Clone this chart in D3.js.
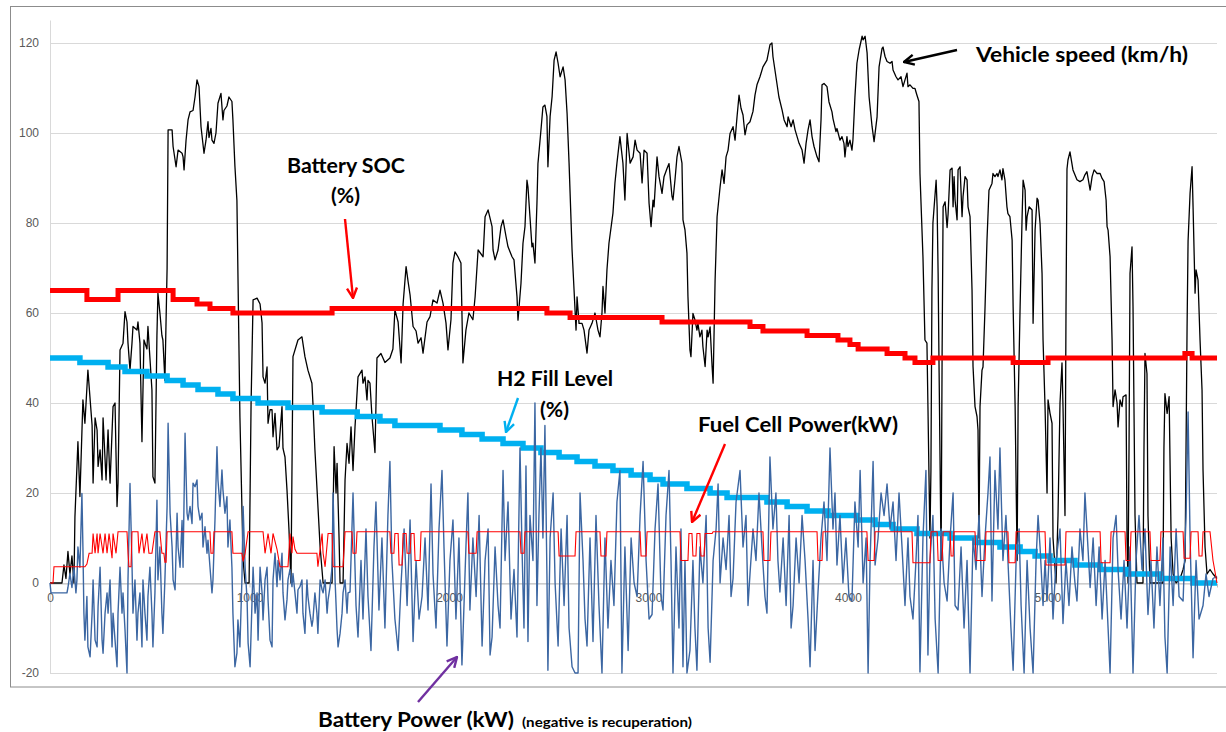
<!DOCTYPE html>
<html><head><meta charset="utf-8">
<script src="https://cdn.jsdelivr.net/npm/d3@7"></script>
<style>
html,body{margin:0;padding:0;background:#fff;}
svg{display:block;}
</style></head>
<body>
<svg id="chart" width="1226" height="732"></svg>
<script>
// Axis ticks
const xTicks = [0, 1000, 2000, 3000, 4000, 5000];
const yTicks = [-20, 0, 20, 40, 60, 80, 100, 120];

// Vehicle speed (km/h), [time s, value]
const speed = [[0,0],[60,0],[70,4],[80,1],[90,7],[100,2],[110,6],[120,0],[125,14.7],[140,31.4],[150,19.2],[165,40.7],[175,35.5],[190,47.3],[211,35],[216,22.2],[226,36.7],[236,34],[241,25.9],[251,29.6],[261,22.9],[266,36.7],[281,22.9],[291,34],[301,22.2],[316,39.2],[326,40],[336,17],[341,22.2],[351,51.8],[366,53.3],[376,60.3],[386,58],[391,53.3],[401,47.3],[411,53.3],[416,57],[436,56.2],[441,58],[451,53.3],[461,31.4],[471,54],[486,52],[491,57],[511,42.9],[516,23.6],[526,22.2],[536,55],[541,64.4],[551,60],[561,55],[566,54],[576,45],[587,70],[592,100.7],[612,100.7],[617,97],[632,92.5],[642,96.2],[662,95.5],[667,94.7],[672,91.8],[682,98.4],[692,102.9],[702,104.7],[717,105],[727,108],[737,111.8],[747,110.3],[757,101.4],[772,95.5],[782,98.4],[792,102.5],[797,99],[807,101],[812,98.4],[822,97.7],[832,100],[842,106.6],[857,108.8],[867,102.9],[872,105],[887,106],[897,108],[912,107],[917,102.9],[927,92.6],[937,85],[952,37],[968,5],[978,0],[998,0],[1008,40],[1018,62.9],[1038,63.3],[1053,62],[1063,57.8],[1068,45.8],[1078,44.4],[1088,48],[1093,35.5],[1103,38.5],[1113,38.5],[1118,32.5],[1128,37.7],[1138,29.6],[1148,30.3],[1163,39.2],[1168,29.9],[1178,28],[1188,20.7],[1198,11.8],[1208,0],[1218,50.3],[1243,54],[1263,54.7],[1278,50.3],[1293,47.3],[1313,44.4],[1318,40],[1328,29.6],[1354,8],[1369,0],[1414,0],[1424,30.3],[1434,20],[1439,26.6],[1449,10],[1454,0],[1469,0],[1479,22.9],[1489,31],[1499,26.6],[1509,34.7],[1519,25],[1529,34.7],[1544,45.8],[1564,47.3],[1569,44.4],[1579,45.8],[1589,40.7],[1594,45],[1604,44.4],[1614,37],[1629,29],[1639,50],[1659,51],[1679,49],[1704,50],[1719,52],[1729,60.7],[1745,58],[1760,48.9],[1770,62],[1785,70.3],[1795,67],[1805,64],[1820,57],[1835,56],[1845,53.3],[1860,54.5],[1870,51.1],[1890,58],[1905,59.2],[1920,62.9],[1940,62.2],[1955,65.1],[1970,62.2],[1985,57.8],[1995,51.8],[2010,58.5],[2020,71.1],[2030,73.6],[2045,72.5],[2060,71.1],[2070,48.9],[2085,56.2],[2100,60],[2120,58.5],[2131,63.6],[2146,74],[2171,72.5],[2181,81.4],[2196,82.9],[2216,79.2],[2221,74],[2231,71.8],[2246,74],[2261,79.2],[2271,80.7],[2286,77],[2296,74.7],[2316,72.5],[2326,71.8],[2341,63.6],[2346,58.4],[2361,66.6],[2371,75.5],[2381,79.2],[2391,89.5],[2396,88],[2406,81.4],[2416,74.7],[2421,75.5],[2431,71.1],[2441,84.4],[2446,93.2],[2461,100.6],[2471,105.8],[2481,106.2],[2491,103.7],[2496,92.5],[2507,103.7],[2517,108.1],[2527,116.2],[2537,118],[2547,115.5],[2557,112.5],[2572,114.7],[2582,111.8],[2592,104.4],[2602,93.3],[2617,74],[2627,65.1],[2637,56.2],[2642,63.6],[2652,57.7],[2667,57.7],[2677,56.2],[2692,51.1],[2702,56.2],[2717,57.7],[2732,60],[2747,56.2],[2757,54.7],[2767,60],[2772,65.9],[2782,60],[2792,69.6],[2802,75.5],[2822,82.2],[2832,88.9],[2842,93.3],[2857,99.2],[2872,93.3],[2882,85.1],[2893,99.9],[2908,93.3],[2923,94.7],[2933,98.4],[2943,96.2],[2958,95.5],[2968,88.9],[2978,96.2],[2993,95.5],[3003,84.4],[3013,79.2],[3023,85.1],[3028,83.6],[3043,94.7],[3053,90.3],[3068,86.6],[3078,90.3],[3093,92.1],[3103,93.2],[3118,85.9],[3123,85.1],[3133,89.6],[3143,94.7],[3153,97],[3168,93.3],[3173,80.7],[3183,78.5],[3193,73.3],[3198,63.6],[3208,51.8],[3213,50.3],[3223,59.9],[3233,58.5],[3243,56.2],[3248,57.7],[3258,54.7],[3268,56.2],[3273,52.5],[3284,48.1],[3294,56.2],[3299,54.7],[3309,56.9],[3319,48.1],[3324,44.4],[3334,67.3],[3344,81.4],[3359,88],[3369,91.8],[3379,88.8],[3389,94.7],[3399,96.2],[3409,99.9],[3424,101.4],[3434,98.4],[3444,103.6],[3454,108.4],[3464,105.5],[3474,104],[3484,99.6],[3494,101.8],[3509,102.5],[3524,104.8],[3534,108.4],[3544,110.7],[3559,112.5],[3574,114.7],[3594,116.2],[3609,119.6],[3619,120],[3624,117],[3644,111],[3654,108],[3670,105.1],[3680,102.9],[3695,101.4],[3700,103.6],[3715,101.4],[3725,102.9],[3735,100.7],[3745,99.2],[3755,97.7],[3770,96.2],[3780,93.3],[3790,97.7],[3800,100.7],[3810,102.9],[3820,99.2],[3830,97],[3845,94.7],[3855,93.6],[3865,102.9],[3870,110.7],[3880,111],[3895,110.3],[3905,106.9],[3920,104.7],[3925,103.2],[3940,100.3],[3945,101],[3960,98.4],[3970,99.2],[3980,97.7],[3985,94.7],[3995,99.2],[4000,97],[4010,98.4],[4020,96.2],[4025,98.4],[4035,108],[4045,115.5],[4056,118.5],[4071,121.5],[4076,120.7],[4086,121.5],[4096,117.8],[4106,108],[4121,101.4],[4131,98.1],[4146,103.6],[4156,114.7],[4171,118.8],[4176,119.1],[4186,117],[4196,115.9],[4211,115.5],[4221,115.9],[4226,114],[4241,112.5],[4251,111.8],[4266,112.5],[4276,110.3],[4286,111.8],[4296,113.3],[4301,110.3],[4311,110.7],[4326,109.9],[4336,109.9],[4346,108.4],[4356,107],[4361,91],[4376,72.5],[4386,54],[4396,53.3],[4401,39.2],[4411,10],[4416,25],[4421,65.1],[4426,80],[4442,89.5],[4447,83.6],[4452,68.8],[4457,46.7],[4467,5],[4472,51],[4477,83.6],[4487,84.7],[4497,79],[4502,82],[4512,91.8],[4522,92.2],[4527,83.6],[4532,90.3],[4537,85.1],[4547,80.7],[4552,91.8],[4562,92.5],[4572,81.4],[4577,85.9],[4587,90.3],[4597,89.6],[4602,83.6],[4612,81.4],[4622,65.1],[4627,48.1],[4637,39.2],[4647,37],[4652,34],[4657,10],[4662,39.2],[4672,47.3],[4677,48],[4687,61],[4697,76.2],[4707,87.3],[4722,88.8],[4727,91],[4737,90.3],[4747,91],[4752,90.3],[4762,91.8],[4772,89.6],[4777,92.1],[4787,89.6],[4797,83.6],[4802,82.1],[4812,81.4],[4823,76.2],[4828,61.4],[4838,39.2],[4848,5],[4853,39.2],[4863,61.4],[4873,81.4],[4878,89.5],[4888,87.3],[4893,78.4],[4898,81.4],[4908,83.6],[4923,82.9],[4928,57.7],[4938,78.4],[4948,85.5],[4953,85.1],[4963,79.9],[4973,68.8],[4978,54],[4988,39.2],[4998,20],[5003,40.7],[5013,37.7],[5023,35.5],[5028,10],[5043,0],[5053,15],[5063,40],[5073,48.9],[5078,39.2],[5088,15],[5093,60],[5098,92],[5103,94],[5113,95.8],[5128,91.8],[5148,89.6],[5163,89.2],[5178,89.6],[5188,90.7],[5198,91.4],[5214,87.3],[5224,90.3],[5234,91.8],[5249,91],[5264,91],[5274,89.9],[5284,89.2],[5294,85.1],[5299,79.2],[5304,78.4],[5314,72.5],[5324,54],[5329,39.2],[5339,42.9],[5349,40],[5354,34.7],[5364,40.7],[5374,39.2],[5379,41.4],[5394,41.8],[5399,10],[5404,0],[5409,30],[5414,68.8],[5424,74.7],[5429,61.4],[5439,15],[5449,0],[5479,0],[5484,30],[5489,51],[5499,46.5],[5504,15],[5514,0],[5579,0],[5584,30],[5589,42.1],[5600,37.7],[5610,41.4],[5620,10],[5630,2],[5645,0],[5665,1],[5680,3],[5690,5],[5700,57],[5705,76],[5715,86.6],[5725,92.5],[5730,83.6],[5740,64.4],[5745,69.6],[5755,67.3],[5765,54],[5775,42.9],[5780,25],[5790,8],[5800,2],[5815,3],[5830,2],[5850,1]];

// Battery state of charge (%), value from each time onward
const soc = [[0,65],[185,63],[341,65],[617,63],[737,62],[802,61],[917,60],[1414,61],[2491,60],[2607,59],[3068,58],[3509,57],[3574,56],[3795,55],[3950,54],[4010,53],[4051,52],[4196,51],[4286,50],[4336,49],[4426,50],[4828,49],[5003,50],[5689,51],[5725,50],[5850,50]];

// Hydrogen tank fill level (%), value from each time onward
const h2 = [[0,50],[150,49],[291,48],[376,47],[486,46],[587,45],[667,44],[742,43],[842,42],[917,41],[1043,40],[1193,39],[1364,38],[1540,37],[1654,36],[1729,35],[1955,34],[2065,33],[2166,32],[2271,31],[2371,30],[2461,29],[2552,28],[2642,27],[2732,26],[2822,25],[2913,24],[3008,23],[3073,22],[3193,21],[3309,20],[3394,19],[3594,18],[3695,17],[3795,16],[3900,15],[4045,14],[4136,13],[4226,12],[4346,11],[4512,10],[4637,9],[4762,8],[4863,7],[4938,6],[5013,5],[5138,4],[5264,3],[5399,2],[5564,1],[5730,0],[5850,0]];

// Fuel cell power (kW), [time s, value]
const fuelCell = [[0,0],[15,0],[20,3.6],[175,3.6],[185,4.2],[196,6.6],[211,6.6],[216,11],[226,6.6],[236,11],[241,6.6],[251,11],[266,6.6],[276,11],[286,6.6],[296,11],[311,5.5],[316,11],[331,6.6],[341,11.4],[386,11.4],[391,6.6],[396,3.6],[406,3.6],[411,11.4],[441,11.4],[446,6.6],[461,11],[471,6.6],[486,11],[496,6.6],[511,6.6],[526,11.4],[551,11.4],[561,6.6],[571,6.6],[576,4.6],[582,4.6],[587,11.4],[802,11.4],[807,6.6],[817,6.6],[822,11.4],[912,11.4],[917,6.6],[962,6.6],[968,4.8],[978,6.6],[993,11.4],[1068,11.4],[1078,6.6],[1093,11],[1108,6.6],[1118,11],[1138,7.5],[1153,3.6],[1193,3.6],[1203,11],[1213,6.6],[1218,10.3],[1228,7.5],[1238,6.6],[1338,6.6],[1343,3.6],[1364,11],[1369,6.6],[1379,3.6],[1394,11],[1414,11],[1419,3.6],[1469,3.6],[1479,11.4],[1514,11.4],[1519,6.6],[1534,6.6],[1539,11.4],[1704,11.4],[1709,6.6],[1724,6.6],[1729,11],[1745,11],[1750,4],[1765,4],[1770,11],[1785,11],[1790,6.6],[1805,6.6],[1810,11],[1825,11],[1830,5],[1855,5],[1860,11.4],[2095,11.4],[2100,6.6],[2136,6.6],[2141,11.4],[2356,11.4],[2361,6.6],[2376,6.6],[2381,11.4],[2547,11.4],[2552,6],[2632,6],[2637,11.4],[2757,11.4],[2762,6],[2787,6],[2792,11.4],[2958,11.4],[2963,6],[2988,6],[2993,11.4],[3158,11.4],[3163,5],[3198,5],[3203,11],[3218,11],[3223,6],[3238,6],[3243,11],[3258,11],[3263,6],[3279,6],[3284,11],[3319,11],[3324,11.4],[3574,11.4],[3579,5],[3609,5],[3614,11.4],[3845,11.4],[3850,5],[3870,5],[3875,11.4],[4095,11.4],[4101,5],[4131,5],[4136,11.4],[4321,11.4],[4326,4.5],[4411,4.5],[4416,11.4],[4447,11.4],[4452,5],[4472,5],[4477,11.4],[4512,11.4],[4517,6],[4527,6],[4532,11.4],[4637,11.4],[4642,5],[4687,5],[4692,11.4],[4802,11.4],[4807,4.5],[4838,4.5],[4843,11.4],[4988,11.4],[4993,4],[5088,4],[5093,11.4],[5264,11.4],[5269,4.5],[5314,4.5],[5319,11.4],[5389,11.4],[5394,5],[5414,5],[5419,11.4],[5514,11.4],[5519,5],[5564,5],[5569,11.4],[5680,11.4],[5685,5.5],[5715,5.5],[5720,11.4],[5755,11.4],[5760,6],[5775,6],[5780,11.4],[5815,11.4],[5830,5],[5850,0]];

// Battery power (kW), negative while recuperating
const batteryPower = [[0,0],[5,-2.2],[85,-2.2],[90,-1],[100,2.1],[110,-1],[120,3.5],[130,-2.2],[135,0.7],[140,8],[150,3.5],[160,19.9],[165,8],[170,-6.7],[175,-12.7],[185,-3],[190,-14.2],[201,-16.4],[211,-6.7],[216,0.7],[226,-12.7],[236,-14.2],[241,-5.2],[251,3.5],[261,-12.7],[266,-15.6],[276,-6.7],[286,-2.2],[291,-6.7],[301,0.7],[311,-14.2],[316,-6.7],[326,-12.7],[336,-18.6],[341,-6.7],[351,3.5],[361,-6.7],[366,-2.2],[376,-10.4],[386,-20],[391,0.7],[401,22.1],[411,4.2],[416,-6.7],[426,0.7],[436,-12.7],[441,-6.7],[451,-2.2],[461,-14.2],[466,0.7],[476,-6.7],[486,-12.7],[491,-3],[501,3.5],[511,-6.7],[516,-14.2],[526,-2.2],[536,18.4],[541,0.7],[551,8],[561,-6.7],[566,-11.2],[576,0.7],[587,17],[592,35.5],[602,15.5],[612,8],[617,0.7],[627,-1.5],[637,15.5],[642,8],[652,3.5],[662,13.9],[667,3.5],[677,33.3],[687,15.5],[692,14],[702,17],[712,13.2],[717,22.2],[727,21.4],[737,22.9],[742,17],[752,14],[762,15.5],[767,8],[777,12.5],[787,6.6],[792,9.5],[802,3.5],[812,-2.2],[817,0.7],[827,14],[837,30.3],[842,22.9],[852,17],[862,25.1],[867,20.7],[877,15.5],[887,19.2],[892,8],[902,14],[912,3.5],[917,-6.7],[927,-18.6],[937,-15.6],[942,-8.2],[952,-14.2],[962,0.7],[968,17],[978,3.5],[988,-3.7],[993,-13.3],[1003,-18.6],[1013,-3.7],[1018,3.5],[1028,-6.7],[1038,-2.2],[1043,-12.7],[1053,3.5],[1063,-2.2],[1068,-8.2],[1078,0.7],[1088,3.5],[1093,-3.7],[1103,-12.7],[1113,-14.2],[1118,0.7],[1128,6.6],[1138,-0.8],[1143,5],[1153,0.7],[1163,6.6],[1168,-2.2],[1178,-8.2],[1188,-3.7],[1193,0.7],[1203,3],[1213,-0.8],[1218,2.1],[1228,-2.2],[1238,-6.7],[1243,-1.5],[1253,-0.8],[1263,0.7],[1268,-6.7],[1278,-11.2],[1288,0.7],[1293,-3],[1303,-6.7],[1313,-9.6],[1318,-8.2],[1328,-2.2],[1338,-6.7],[1343,-11.2],[1354,0.7],[1364,-1.5],[1369,-2.2],[1379,0.7],[1389,-6.7],[1394,-3.7],[1404,-0.8],[1414,3.5],[1419,20],[1429,0.7],[1439,-10.4],[1444,-14.2],[1454,-11.2],[1464,-6.7],[1469,-2.2],[1479,0.7],[1489,-6.7],[1494,-2.2],[1504,-2],[1519,20],[1534,-5],[1544,-12],[1559,5],[1569,-8],[1584,12],[1594,-3],[1609,-15],[1624,8],[1634,18],[1649,-6],[1664,10],[1679,-10],[1694,15],[1704,27],[1714,5],[1729,-8],[1745,-15],[1760,0],[1775,12],[1790,-5],[1805,14],[1820,-13],[1835,5],[1850,-8],[1865,-3],[1880,10],[1895,-6],[1910,22],[1920,2],[1935,-10],[1950,12],[1965,25],[1975,8],[1990,-14],[2005,5],[2020,14],[2035,-8],[2050,10],[2065,-18.2],[2070,-12],[2085,8],[2095,20],[2105,-6],[2120,10],[2136,-3],[2151,15],[2166,-14],[2181,5],[2196,12],[2206,-16],[2216,-12],[2231,8],[2246,-5],[2256,-10],[2271,25],[2281,5],[2296,18],[2311,-8],[2326,3],[2341,-12],[2356,30],[2366,8],[2376,-10],[2386,26],[2396,-13],[2406,15],[2421,5],[2431,40],[2441,-5],[2451,15],[2461,30],[2471,10],[2481,35],[2491,2],[2496,-19.4],[2507,10],[2522,20],[2532,0],[2547,-14],[2562,12],[2577,-5],[2592,15],[2602,-10],[2617,-18.6],[2632,-20],[2647,-20],[2657,20],[2672,5],[2682,-8],[2692,-14],[2707,10],[2722,-13],[2737,15],[2752,-5],[2767,-20],[2782,10],[2797,-10],[2812,5],[2827,-5],[2842,18],[2857,25],[2867,-20],[2882,8],[2898,-15],[2913,10],[2928,0],[2943,-3],[2958,15],[2973,27],[2988,5],[3003,-8],[3018,-7],[3033,12],[3048,22],[3063,-3],[3073,-6],[3088,15],[3103,25],[3113,5],[3123,-20],[3138,8],[3153,-10],[3163,12],[3173,-18.6],[3183,5],[3193,-20],[3208,-15],[3223,5],[3233,-10],[3243,-19.4],[3258,8],[3273,0],[3289,15],[3299,-10],[3309,-17.6],[3324,5],[3339,12],[3349,22],[3359,0],[3374,10],[3389,3],[3404,15],[3414,-3],[3424,1],[3439,18],[3459,25],[3474,8],[3489,15],[3499,-5],[3509,2],[3524,12],[3539,5],[3554,20],[3569,8],[3584,-3],[3594,-6.7],[3609,28],[3624,12],[3639,20],[3649,5],[3659,-2],[3675,10],[3690,-5],[3705,15],[3715,-10],[3725,-5],[3740,10],[3755,0],[3770,15],[3785,5],[3800,-8],[3810,-18.6],[3825,5],[3835,-15],[3850,-2],[3865,10],[3880,18],[3895,5],[3910,30],[3925,12],[3935,20],[3945,4],[3960,15],[3975,0],[3990,10],[4005,-3],[4020,-4],[4035,18],[4051,8],[4061,25],[4076,0],[4091,10],[4101,-20],[4111,5],[4126,27],[4136,4],[4151,10],[4166,20],[4181,15],[4196,22],[4211,12],[4226,18],[4241,5],[4256,20],[4271,8],[4286,-5],[4301,10],[4311,-3],[4326,-8],[4341,5],[4351,15],[4361,-19.8],[4376,10],[4391,25],[4401,-16],[4411,5],[4426,15],[4437,-8],[4452,-20],[4467,12],[4482,0],[4497,-4],[4512,10],[4527,20],[4537,-5],[4552,-6],[4567,8],[4582,-10],[4597,5],[4612,-20],[4627,10],[4642,3],[4657,15],[4672,-3],[4687,10],[4702,20],[4712,28],[4722,-4],[4737,25],[4752,12],[4762,30],[4777,5],[4792,15],[4807,0],[4817,-10],[4828,-19.4],[4843,5],[4858,12],[4868,-5],[4883,-20],[4898,5],[4913,-10],[4928,-20],[4943,5],[4953,15],[4963,8],[4978,-5],[4988,5],[4998,-4],[5013,10],[5028,-8],[5043,5],[5063,12],[5078,-9],[5093,5],[5108,-5],[5123,8],[5138,0],[5148,-4],[5163,12],[5178,5],[5188,20],[5203,8],[5214,-1],[5229,10],[5244,-5],[5259,8],[5274,-8],[5289,5],[5304,-10],[5314,-20],[5329,10],[5344,15],[5354,3],[5369,-8],[5384,5],[5399,-10],[5414,8],[5429,-20],[5444,5],[5459,15],[5474,3],[5489,12],[5504,-7],[5519,5],[5534,-10],[5549,8],[5564,-5],[5579,10],[5589,-12],[5600,-20],[5615,8],[5630,-5],[5645,12],[5660,-3],[5680,-4],[5695,15],[5705,38],[5715,10],[5730,-16.6],[5745,5],[5760,-8],[5780,-5],[5795,2],[5810,-3],[5830,1],[5850,1.5]];

const svg = d3.select("#chart");
const x = d3.scaleLinear().domain([0, 5850]).range([50, 1217]);
const y = d3.scaleLinear().domain([-20, 125]).range([673, 20.5]);

// outer chart frame
svg.append("rect").attr("x", 10.5).attr("y", 6.5).attr("width", 1230).attr("height", 680.5)
  .attr("fill", "#fff").attr("stroke", "#8c8c8c").attr("stroke-width", 1);

// horizontal gridlines
svg.append("g").selectAll("line").data(yTicks).join("line")
  .attr("x1", 50).attr("x2", 1217)
  .attr("y1", d => Math.round(y(d)) + 0.5).attr("y2", d => Math.round(y(d)) + 0.5)
  .attr("stroke", "#d9d9d9").attr("stroke-width", 1);

// vertical value axis
svg.append("line").attr("x1", 50.5).attr("x2", 50.5).attr("y1", y(125)).attr("y2", y(-20))
  .attr("stroke", "#d9d9d9");

// y tick labels
svg.append("g").selectAll("text").data(yTicks).join("text")
  .attr("x", 39).attr("y", d => y(d) + 4)
  .attr("text-anchor", "end")
  .attr("font-family", "Liberation Sans, Arial, sans-serif").attr("font-size", 12)
  .attr("fill", "#595959").text(d => d);

// time axis at zero
const xAxis = d3.axisBottom(x).tickValues(xTicks).tickSize(4).tickPadding(6).tickFormat(d3.format("d"));
const gx = svg.append("g").attr("transform", `translate(0,${Math.round(y(0)) + 0.5})`).call(xAxis);
gx.select(".domain").attr("stroke", "#bfbfbf");
gx.selectAll(".tick line").attr("stroke", "#bfbfbf");
gx.selectAll(".tick text").attr("font-family", "Liberation Sans, Arial, sans-serif")
  .attr("font-size", 12).attr("fill", "#595959");

const line = d3.line().x(d => x(d[0])).y(d => y(d[1]));
const step = d3.line().x(d => x(d[0])).y(d => y(d[1])).curve(d3.curveStepAfter);

const plot = svg.append("g");
plot.append("path").datum(speed).attr("d", line)
  .attr("fill", "none").attr("stroke", "#000").attr("stroke-width", 1.3).attr("stroke-linejoin", "round");
plot.append("path").datum(h2).attr("d", step)
  .attr("fill", "none").attr("stroke", "#00b0f0").attr("stroke-width", 5.5);
plot.append("path").datum(batteryPower).attr("d", line)
  .attr("fill", "none").attr("stroke", "#3b66a2").attr("stroke-width", 1.4).attr("stroke-linejoin", "round");
plot.append("path").datum(fuelCell).attr("d", line)
  .attr("fill", "none").attr("stroke", "#ff0000").attr("stroke-width", 1.1);
plot.append("path").datum(soc).attr("d", step)
  .attr("fill", "none").attr("stroke", "#ff0000").attr("stroke-width", 5);

// arrowheads
const defs = svg.append("defs");
function head(id, color) {
  defs.append("marker").attr("id", id).attr("viewBox", "0 0 12 12").attr("refX", 11).attr("refY", 6)
    .attr("markerWidth", 12).attr("markerHeight", 12).attr("markerUnits", "userSpaceOnUse").attr("orient", "auto")
    .append("path").attr("d", "M1,1 L11,6 L1,11").attr("fill", "none").attr("stroke", color).attr("stroke-width", 2.4);
}
head("hBlack", "#000"); head("hRed", "#ff0000"); head("hCyan", "#00b0f0"); head("hPurple", "#7030a0");

const arrows = [
  [957, 50, 904, 62, "#000", "hBlack"],
  [345, 219, 353, 298, "#ff0000", "hRed"],
  [518, 398, 506, 432, "#00b0f0", "hCyan"],
  [725, 444, 692, 522, "#ff0000", "hRed"],
  [418, 702, 457, 657, "#7030a0", "hPurple"]
];
svg.append("g").selectAll("line").data(arrows).join("line")
  .attr("x1", d => d[0]).attr("y1", d => d[1]).attr("x2", d => d[2]).attr("y2", d => d[3])
  .attr("stroke", d => d[4]).attr("stroke-width", 2.4)
  .attr("marker-end", d => `url(#${d[5]})`);

// annotations
const labels = [
  ["Vehicle speed (km/h)", 976, 62, 20, 212],
  ["Battery SOC", 287, 173, 20, 118],
  ["(%)", 331, 203, 20, 29],
  ["H2 Fill Level", 497, 386, 20, 116],
  ["(%)", 540, 417, 20, 29],
  ["Fuel Cell Power(kW)", 698, 432, 20, 200],
  ["Battery Power (kW)", 318, 727, 20, 196]
];
svg.append("g").selectAll("text").data(labels).join("text")
  .attr("x", d => d[1]).attr("y", d => d[2])
  .attr("font-family", "Lato, 'Open Sans', sans-serif").attr("font-weight", "bold")
  .attr("font-size", d => d[3]).attr("fill", "#000")
  .attr("textLength", d => d[4]).attr("lengthAdjust", "spacingAndGlyphs")
  .text(d => d[0]);
svg.append("text").attr("x", 522).attr("y", 727)
  .attr("font-family", "Lato, 'Open Sans', sans-serif").attr("font-weight", "bold")
  .attr("font-size", 14).attr("textLength", 170).attr("lengthAdjust", "spacingAndGlyphs")
  .text("(negative is recuperation)");
</script>
</body></html>
